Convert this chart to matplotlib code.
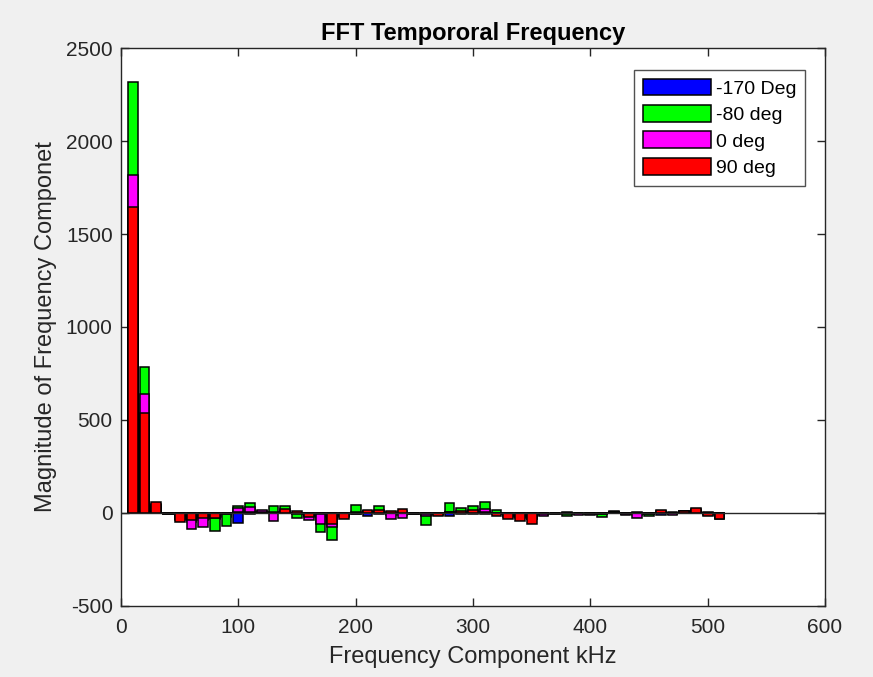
import matplotlib
matplotlib.use("Agg")
import matplotlib.pyplot as plt
import numpy as np

plt.rcParams['font.family'] = ['Liberation Sans', 'DejaVu Sans']
plt.rcParams['axes.unicode_minus'] = False

# Frequency bins (kHz)
freq_khz = np.arange(10, 520, 10)

# Magnitude of each frequency component for the four phase angles
mag_m170 = [1500, 500, 30, -5, -20, -30, -20, -30, -20, -55,
            -5, -3, 5, 5, -5, -10, -20, -30, -10, -8,
            -18, -5, -10, -10, -4, -10, -5, -15, -5, -5,
            -5, -5, -10, -15, -20, -12, -4, -5, -5, -5,
            -8, 3, -5, -5, -5, -12, -5, 8, 10, -8, -28]
mag_m80 = [2320, 785, 45, -8, -35, -50, -40, -98, -68, 40,
           52, 8, 35, 35, -27, -15, -100, -145, -20, 42,
           8, 36, 5, 10, -5, -65, -10, 52, 28, 36,
           60, 18, -20, -20, -30, -8, -5, -15, -5, -5,
           -20, 10, -5, -10, -15, 5, -5, 10, 15, 5, -25]
mag_0 = [1820, 640, 50, -6, -40, -85, -75, -25, -8, 25,
         30, 15, -45, 10, -8, -40, -60, -78, -15, 5,
         10, 10, -35, -28, -3, -15, -8, 5, 5, 10,
         20, -8, -15, -25, -30, -15, -3, -5, -12, -12,
         -8, 4, -10, -28, -8, 8, -10, 9, 20, -10, -32]
mag_90 = [1645, 535, 60, -8, -50, -40, -25, -25, -5, 5,
          6, 4, 5, 20, 10, -20, -8, -57, -30, -6,
          15, 18, 10, 22, -5, -8, -15, 5, 10, 18,
          5, -15, -35, -42, -58, -5, -3, 4, -3, -4,
          -5, 3, -4, 5, -4, 15, 4, 10, 25, -15, -30]

series_labels = ['-170 Deg', '-80 deg', '0 deg', '90 deg']
series_colors = ['#0000ff', '#00ff00', '#ff00ff', '#ff0000']

fig = plt.figure(figsize=(8.73, 6.77), dpi=100, facecolor='#f0f0f0')
ax = fig.add_axes([0.1386, 0.105, 0.8064, 0.824])
ax.set_facecolor('white')

# Overlaid bars: each series drawn over the previous one
for vals, lab, col in zip([mag_m170, mag_m80, mag_0, mag_90],
                          series_labels, series_colors):
    ax.bar(freq_khz, vals, width=8.3, color=col, edgecolor='black',
           linewidth=1.1, label=lab, zorder=2)

ax.axhline(0, color='#262626', linewidth=1.0, zorder=3)

ax.set_xlim(0, 600)
ax.set_ylim(-500, 2500)
ax.set_xticks(np.arange(0, 601, 100))
ax.set_yticks(np.arange(-500, 2501, 500))

axis_col = '#262626'
for sp in ax.spines.values():
    sp.set_color(axis_col)
    sp.set_linewidth(1.0)
ax.tick_params(direction='in', length=6, width=1.0, colors=axis_col,
               labelsize=15, top=True, right=True)
ax.tick_params(axis='x', pad=9)
ax.tick_params(axis='y', pad=6)
for lbl in ax.get_xticklabels() + ax.get_yticklabels():
    lbl.set_color(axis_col)

ax.set_xlabel('Frequency Component kHz', fontsize=17, color=axis_col, labelpad=6)
ax.set_ylabel('Magnitude of Frequency Componet', fontsize=17, color=axis_col, labelpad=6)
ax.set_title('FFT Tempororal Frequency', fontsize=17, fontweight='bold',
             color='black', pad=6)

leg = ax.legend(loc='upper right', bbox_to_anchor=(0.972, 0.961), fontsize=14,
                frameon=True, fancybox=False, handlelength=3.5, handleheight=0.95,
                handletextpad=0.25, borderpad=0.45, labelspacing=0.38,
                borderaxespad=0)
leg.get_frame().set_edgecolor(axis_col)
leg.get_frame().set_linewidth(1.0)

fig.savefig('out.png', dpi=100, facecolor=fig.get_facecolor())
